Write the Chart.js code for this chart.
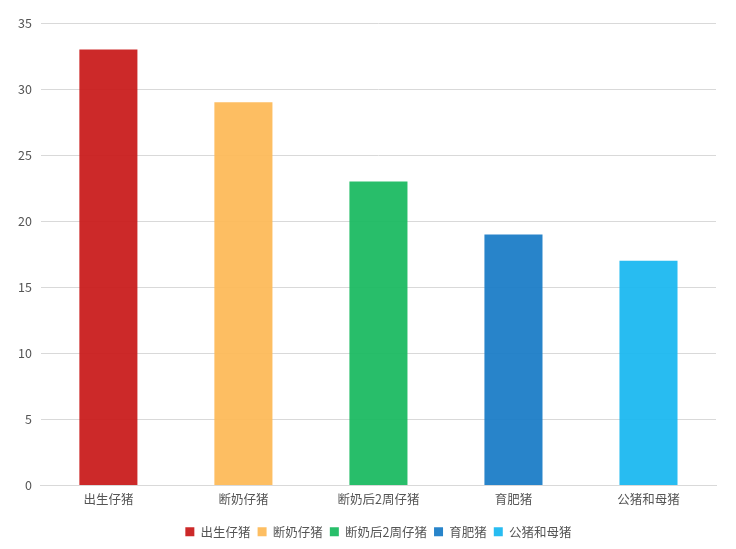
<!DOCTYPE html>
<html>
<head>
<meta charset="utf-8">
<script src="https://cdn.jsdelivr.net/npm/chart.js@4"></script>
<style>
  html, body { margin: 0; padding: 0; background: #fff; }
  #wrap { width: 736px; height: 549px; }
</style>
</head>
<body>
<div id="wrap"><canvas id="pigChart"></canvas></div>
<script>
// data
var categories = ['出生仔猪', '断奶仔猪', '断奶后2周仔猪', '育肥猪', '公猪和母猪'];
var values = [33, 29, 23, 19, 17];
var barColors = ['rgba(201, 30, 30, 0.95)', 'rgba(253, 186, 90, 0.95)', 'rgba(28, 187, 98, 0.95)',
                 'rgba(28, 125, 199, 0.95)', 'rgba(28, 184, 240, 0.95)'];
var yTicks = [0, 5, 10, 15, 20, 25, 30, 35];

Chart.defaults.font.family = '"Noto Sans CJK SC", "Noto Sans", sans-serif';
Chart.defaults.color = '#555';

// legend sits centred over the plot area, not the whole canvas
var shiftLegend = {
    id: 'shiftLegend',
    afterLayout: function (chart) {
        var lg = chart.legend;
        var mid = (chart.chartArea.left + chart.chartArea.right) / 2;
        var dx = mid - (lg.left + lg.right) / 2;
        lg.left += dx;
        lg.right += dx;
    }
};

const ctx = document.getElementById('pigChart').getContext('2d');
const pigChart = new Chart(ctx, {
    type: 'bar',
    data: {
        labels: categories,
        datasets: [{
            data: values,
            backgroundColor: barColors,
            borderWidth: 0,
            barPercentage: 0.43,
            categoryPercentage: 1.0
        }]
    },
    options: {
        responsive: true,
        maintainAspectRatio: false,
        animation: false,
        layout: { padding: { left: 9, right: 20, top: 23, bottom: 1 } },
        plugins: {
            legend: {
                position: 'bottom',
                labels: {
                    boxWidth: 9,
                    boxHeight: 9,
                    padding: 7,
                    font: { size: 12.5 },
                    generateLabels: function (chart) {
                        return chart.data.labels.map(function (l, i) {
                            return {
                                text: l,
                                fillStyle: barColors[i],
                                strokeStyle: barColors[i],
                                lineWidth: 0,
                                fontColor: '#555',
                                index: i
                            };
                        });
                    }
                },
                onClick: null
            },
            tooltip: { enabled: false }
        },
        scales: {
            x: {
                grid: { display: false },
                border: { color: '#d9d9d9' },
                ticks: { font: { size: 12.5 }, padding: -2 },
                afterFit: function (scale) { scale.height += 14; }
            },
            y: {
                min: 0,
                max: 35,
                afterBuildTicks: function (axis) {
                    axis.ticks = yTicks.map(function (v) { return { value: v }; });
                },
                grid: { color: '#d9d9d9', drawTicks: false },
                border: { display: false },
                ticks: { font: { size: 12.5 }, padding: 9 }
            }
        }
    },
    plugins: [shiftLegend]
});
</script>
</body>
</html>
